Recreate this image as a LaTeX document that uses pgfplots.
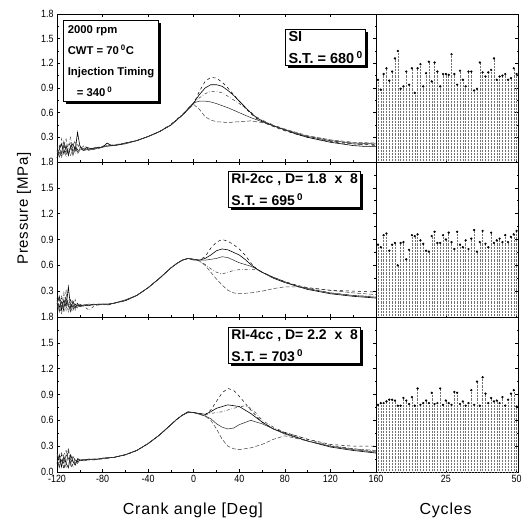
\documentclass[border=0pt]{standalone}
\usepackage{pgfplots}
\pgfplotsset{compat=1.18}
\usepackage{fontspec}
\setmainfont{Liberation Sans}
\newfontfamily\tickfont[FakeStretch=0.85]{Liberation Sans}
\newfontfamily\labfont[LetterSpace=5]{Liberation Sans}
\usetikzlibrary{shadows}

\tikzset{bx/.style={draw, line width=0.9pt, fill=white, align=left,
    drop shadow={shadow xshift=2.5pt, shadow yshift=-2.5pt, opacity=1, fill=black}}}

\pgfplotsset{
  base/.style={scale only axis, ymin=0, ymax=1.8, clip=false,
    axis line style={line width=0.9pt}, tick align=inside,
    major tick length=3pt, minor tick length=1.5pt,
    tick style={black, line width=0.5pt},
    ticklabel style={font=\tickfont\fontsize{10.5}{12}\selectfont},
    yticklabel style={/pgf/number format/.cd, fixed, fixed zerofill, precision=1},
    xticklabel style={/pgf/number format/.cd, fixed, precision=0},
    /pgf/number format/assume math mode=true},
  leftax/.style={base, width=319pt, xmin=-120, xmax=160,
    xtick={-120,-80,-40,0,40,80,120,160}, minor x tick num=1,
    minor y tick num=1},
  rightax/.style={base, width=142pt, xmin=0.3, xmax=50.5,
    xtick={25,50}, xtick pos=bottom, ytick pos=right,
    ytick={0.3,0.6,0.9,1.2,1.5,1.8}, yticklabels={}, minor y tick num=1},
  c1/.style={black, line width=0.5pt, dashed},
  c2/.style={black, line width=0.6pt, solid},
  c3/.style={black!80, line width=0.5pt, dash dot},
  c4/.style={black!85, line width=0.5pt, solid},
  c5/.style={black!75, line width=0.5pt, dash pattern=on 4pt off 2pt},
  stem/.style={ycomb, black!55, densely dotted, line width=0.45pt,
    mark=*, mark size=0.9pt, mark options={solid, fill=black, draw=black}},
}

\begin{document}
\begin{tikzpicture}
\path[use as bounding box] (0,0) rectangle (523pt,522pt);

% ---------------- Panel 1 (SI) ----------------
\begin{axis}[leftax, at={(57pt,360pt)}, anchor=south west, height=148pt,
  xticklabels={}, ytick={0.3,0.6,0.9,1.2,1.5,1.8}]
\addplot[c1] coordinates {(-120,0.12)(-118,0.2)(-116,0.08)(-114,0.22)(-112,0.1)(-110,0.18)(-108,0.25)(-106,0.12)(-104,0.2)(-102,0.15)(-100,0.18)(-96,0.15)(-92,0.17)(-88,0.16)(-84,0.18)(-80,0.19)(-76,0.21)(-72,0.2)(-66,0.21)(-60,0.23)(-50,0.26)(-40,0.31)(-30,0.37)(-20,0.45)(-10,0.57)(-5,0.64)(0,0.71)
 (5,0.86)(10,0.98)(15,1.03)(20,1.02)(25,0.97)(30,0.9)(35,0.82)(40,0.74)(45,0.66)(50,0.59)(55,0.53)(60,0.49)(70,0.43)(80,0.38)(90,0.34)(100,0.3)(110,0.27)(120,0.25)(130,0.23)(140,0.22)(150,0.21)(160,0.21)};
\addplot[c2] coordinates {(-120,0.05)(-118,0.15)(-116,0.22)(-114,0.1)(-112,0.2)(-110,0.08)(-108,0.18)(-106,0.22)(-104,0.14)(-102,0.36)(-100,0.2)(-97,0.14)(-94,0.18)(-90,0.16)(-86,0.17)(-80,0.18)(-76,0.23)(-72,0.2)(-66,0.21)(-60,0.23)(-50,0.26)(-40,0.31)(-30,0.37)(-20,0.45)(-10,0.57)(-5,0.64)(0,0.72)
 (5,0.82)(10,0.9)(15,0.94)(20,0.94)(25,0.92)(30,0.87)(35,0.81)(40,0.74)(45,0.67)(50,0.6)(55,0.54)(60,0.5)(70,0.44)(80,0.39)(90,0.34)(100,0.3)(110,0.27)(120,0.24)(130,0.22)(140,0.2)(150,0.19)(160,0.19)};
\addplot[c3] coordinates {(-120,0.2)(-118,0.1)(-116,0.28)(-114,0.15)(-112,0.06)(-110,0.22)(-108,0.3)(-106,0.16)(-104,0.1)(-102,0.22)(-100,0.16)(-96,0.2)(-92,0.15)(-88,0.18)(-84,0.17)(-80,0.19)(-76,0.2)(-70,0.2)(-60,0.23)(-50,0.26)(-40,0.31)(-30,0.37)(-20,0.46)(-10,0.58)(-5,0.65)(0,0.72)
 (5,0.78)(10,0.83)(15,0.86)(20,0.86)(25,0.84)(30,0.8)(40,0.71)(50,0.61)(55,0.55)(60,0.51)(70,0.45)(80,0.4)(90,0.35)(100,0.31)(120,0.26)(140,0.22)(160,0.2)};
\addplot[c4] coordinates {(-120,0.15)(-118,0.06)(-116,0.12)(-114,0.25)(-112,0.14)(-110,0.1)(-108,0.2)(-106,0.08)(-104,0.18)(-102,0.12)(-100,0.16)(-96,0.14)(-92,0.16)(-88,0.15)(-84,0.17)(-80,0.18)(-76,0.19)(-70,0.2)(-60,0.22)(-50,0.26)(-40,0.31)(-30,0.37)(-20,0.45)(-10,0.57)(-5,0.65)(0,0.72)
 (5,0.74)(10,0.74)(15,0.73)(20,0.71)(30,0.66)(40,0.6)(50,0.54)(60,0.49)(70,0.44)(80,0.39)(90,0.35)(100,0.31)(120,0.26)(140,0.23)(160,0.22)};
\addplot[c5] coordinates {(-120,0.1)(-118,0.18)(-116,0.05)(-114,0.2)(-112,0.28)(-110,0.12)(-108,0.08)(-106,0.2)(-104,0.26)(-102,0.1)(-100,0.14)(-96,0.17)(-92,0.14)(-88,0.17)(-84,0.16)(-80,0.18)(-76,0.2)(-70,0.21)(-60,0.23)(-50,0.26)(-40,0.31)(-30,0.37)(-20,0.45)(-10,0.57)(-5,0.64)(0,0.7)
 (5,0.64)(10,0.55)(15,0.51)(20,0.49)(30,0.48)(40,0.49)(50,0.5)(60,0.48)(70,0.44)(80,0.4)(90,0.36)(100,0.32)(120,0.27)(140,0.24)(160,0.23)};
\node[bx, anchor=north west, inner xsep=4pt, inner ysep=5pt,
  font=\bfseries\fontsize{11.3}{21}\selectfont] at (rel axis cs:0.02,0.96)
  {2000 rpm\\CWT = 70\,\textsuperscript{0}C\\Injection Timing\\\hspace{0.8em}= 340\,\textsuperscript{0}};
\node[bx, anchor=north west, inner xsep=3pt, inner ysep=2pt,
  font=\bfseries\fontsize{14.5}{22}\selectfont] at (rel axis cs:0.715,0.9)
  {SI\\S.T. = 680\,\textsuperscript{0}};
\end{axis}

% ---------------- Panel 2 (RI-2cc) ----------------
\begin{axis}[leftax, at={(57pt,205pt)}, anchor=south west, height=155pt,
  xticklabels={}, ytick={0.3,0.6,0.9,1.2,1.5,1.8}]
\addplot[c1] coordinates {(-120,0.22)(-118,0.1)(-116,0.25)(-114,0.05)(-112,0.3)(-110,0.12)(-108,0.2)(-106,0.08)(-104,0.15)(-102,0.12)(-100,0.14)(-96,0.13)(-92,0.14)(-88,0.14)(-84,0.14)(-80,0.15)(-75,0.14)(-70,0.16)(-60,0.19)(-50,0.25)(-40,0.34)(-30,0.45)(-20,0.57)(-15,0.62)(-10,0.66)(-5,0.68)(0,0.67)(5,0.66)
 (10,0.7)(15,0.8)(20,0.87)(25,0.9)(30,0.88)(35,0.84)(40,0.79)(45,0.72)(50,0.63)(55,0.56)(60,0.52)(70,0.46)(80,0.41)(90,0.37)(100,0.34)(120,0.31)(140,0.3)(160,0.29)};
\addplot[c2] coordinates {(-120,0.15)(-118,0.24)(-116,0.08)(-114,0.2)(-112,0.12)(-110,0.35)(-108,0.1)(-106,0.18)(-104,0.12)(-102,0.14)(-100,0.13)(-96,0.14)(-92,0.13)(-88,0.15)(-84,0.14)(-80,0.15)(-75,0.15)(-70,0.16)(-60,0.19)(-50,0.25)(-40,0.34)(-30,0.45)(-20,0.57)(-15,0.62)(-10,0.66)(-5,0.68)(0,0.67)(5,0.66)
 (10,0.68)(15,0.72)(20,0.77)(25,0.79)(30,0.78)(35,0.75)(40,0.72)(45,0.67)(50,0.61)(55,0.56)(60,0.52)(70,0.45)(80,0.4)(90,0.36)(100,0.32)(120,0.27)(140,0.24)(160,0.22)};
\addplot[c4] coordinates {(-120,0.2)(-118,0.06)(-116,0.18)(-114,0.1)(-112,0.22)(-110,0.15)(-108,0.06)(-106,0.14)(-104,0.1)(-102,0.16)(-100,0.12)(-96,0.14)(-92,0.15)(-88,0.14)(-84,0.15)(-80,0.15)(-75,0.15)(-70,0.16)(-60,0.2)(-50,0.25)(-40,0.34)(-30,0.45)(-20,0.57)(-15,0.62)(-10,0.66)(-5,0.68)(0,0.66)(5,0.66)
 (10,0.66)(15,0.67)(20,0.68)(25,0.7)(30,0.69)(35,0.66)(40,0.63)(50,0.59)(55,0.56)(60,0.52)(70,0.46)(80,0.41)(90,0.36)(100,0.33)(120,0.28)(140,0.25)(160,0.23)};
\addplot[c3] coordinates {(-120,0.1)(-118,0.2)(-116,0.12)(-114,0.28)(-112,0.08)(-110,0.2)(-108,0.14)(-106,0.1)(-104,0.2)(-102,0.1)(-100,0.15)(-96,0.12)(-92,0.08)(-88,0.12)(-84,0.14)(-80,0.15)(-75,0.14)(-70,0.16)(-60,0.19)(-50,0.25)(-40,0.34)(-30,0.45)(-20,0.57)(-15,0.62)(-10,0.66)(-5,0.68)(0,0.67)(5,0.65)
 (10,0.61)(15,0.56)(20,0.52)(25,0.5)(30,0.52)(35,0.54)(40,0.55)(50,0.55)(55,0.55)(60,0.52)(70,0.46)(80,0.41)(90,0.37)(100,0.33)(120,0.28)(140,0.25)(160,0.24)};
\addplot[c5] coordinates {(-120,0.18)(-118,0.12)(-116,0.04)(-114,0.16)(-112,0.2)(-110,0.06)(-108,0.16)(-106,0.2)(-104,0.08)(-102,0.14)(-100,0.12)(-96,0.13)(-92,0.14)(-88,0.14)(-84,0.15)(-80,0.15)(-75,0.15)(-70,0.16)(-60,0.19)(-50,0.25)(-40,0.34)(-30,0.45)(-20,0.57)(-15,0.62)(-10,0.66)(-5,0.68)(0,0.67)(5,0.65)
 (10,0.6)(15,0.52)(20,0.44)(25,0.37)(30,0.31)(35,0.28)(40,0.27)(50,0.28)(60,0.3)(70,0.33)(80,0.35)(90,0.35)(100,0.34)(120,0.31)(140,0.28)(160,0.26)};
\node[bx, anchor=north west, inner xsep=3pt, inner ysep=2pt,
  font=\bfseries\fontsize{14}{22}\selectfont] at (rel axis cs:0.536,0.94)
  {RI-2cc , D= 1.8 \ x \ 8\\S.T. = 695\,\textsuperscript{0}};
\node[xshift=-29pt, rotate=90, anchor=base, font=\labfont\fontsize{15}{18}\selectfont]
  at (rel axis cs:0,0.70) {Pressure [MPa]};
\end{axis}

% ---------------- Panel 3 (RI-4cc) ----------------
\begin{axis}[leftax, at={(57pt,50pt)}, anchor=south west, height=155pt,
  ytick={0,0.3,0.6,0.9,1.2,1.5,1.8}]
\addplot[c1] coordinates {(-120,0.18)(-118,0.08)(-116,0.2)(-114,0.03)(-112,0.15)(-110,0.25)(-108,0.05)(-106,0.1)(-104,0.16)(-102,0.12)(-100,0.14)(-96,0.14)(-92,0.14)(-88,0.15)(-84,0.15)(-80,0.155)(-70,0.17)(-60,0.2)(-50,0.25)(-40,0.33)(-30,0.43)(-20,0.55)(-15,0.61)(-10,0.66)(-5,0.69)(0,0.69)(5,0.68)(10,0.66)
 (15,0.72)(20,0.82)(25,0.92)(30,0.97)(35,0.95)(40,0.88)(45,0.8)(50,0.72)(60,0.58)(70,0.5)(80,0.46)(100,0.38)(120,0.32)(140,0.3)(160,0.3)};
\addplot[c2] coordinates {(-120,0.1)(-118,0.2)(-116,0.06)(-114,0.18)(-112,0.1)(-110,0.05)(-108,0.2)(-106,0.12)(-104,0.08)(-102,0.15)(-100,0.13)(-96,0.14)(-92,0.15)(-88,0.14)(-84,0.15)(-80,0.16)(-70,0.17)(-60,0.2)(-50,0.25)(-40,0.33)(-30,0.43)(-20,0.55)(-15,0.61)(-10,0.66)(-5,0.7)(0,0.69)(5,0.68)(10,0.67)
 (15,0.7)(20,0.74)(30,0.78)(40,0.76)(50,0.68)(60,0.58)(70,0.5)(80,0.45)(100,0.36)(120,0.29)(140,0.25)(160,0.22)};
\addplot[c3] coordinates {(-120,0.22)(-118,0.12)(-116,0.08)(-114,0.2)(-112,0.26)(-110,0.1)(-108,0.15)(-106,0.05)(-104,0.12)(-102,0.16)(-100,0.14)(-96,0.13)(-92,0.14)(-88,0.15)(-84,0.15)(-80,0.15)(-70,0.17)(-60,0.2)(-50,0.25)(-40,0.33)(-30,0.43)(-20,0.55)(-15,0.61)(-10,0.66)(-5,0.69)(0,0.69)(5,0.68)(10,0.66)
 (15,0.68)(25,0.7)(35,0.74)(45,0.77)(50,0.74)(55,0.68)(60,0.6)(70,0.52)(80,0.46)(100,0.38)(120,0.31)(140,0.27)(160,0.24)};
\addplot[c4] coordinates {(-120,0.15)(-118,0.05)(-116,0.14)(-114,0.1)(-112,0.2)(-110,0.16)(-108,0.1)(-106,0.18)(-104,0.14)(-102,0.1)(-100,0.14)(-96,0.14)(-92,0.15)(-88,0.15)(-84,0.15)(-80,0.16)(-70,0.17)(-60,0.2)(-50,0.25)(-40,0.33)(-30,0.43)(-20,0.55)(-15,0.61)(-10,0.66)(-5,0.69)(0,0.69)(5,0.67)(10,0.65)
 (15,0.62)(20,0.56)(25,0.52)(30,0.5)(35,0.51)(40,0.55)(50,0.6)(60,0.56)(70,0.5)(80,0.44)(100,0.36)(120,0.3)(140,0.26)(160,0.23)};
\addplot[c5] coordinates {(-120,0.2)(-118,0.14)(-116,0.22)(-114,0.12)(-112,0.06)(-110,0.28)(-108,0.12)(-106,0.15)(-104,0.1)(-102,0.14)(-100,0.15)(-96,0.14)(-92,0.14)(-88,0.15)(-84,0.15)(-80,0.16)(-70,0.17)(-60,0.2)(-50,0.25)(-40,0.33)(-30,0.43)(-20,0.55)(-15,0.61)(-10,0.66)(-5,0.69)(0,0.69)(5,0.67)(10,0.65)
 (15,0.6)(20,0.5)(25,0.38)(30,0.3)(35,0.27)(40,0.26)(50,0.28)(60,0.32)(70,0.38)(80,0.42)(100,0.36)(120,0.3)(140,0.27)(160,0.25)};
\node[bx, anchor=north west, inner xsep=3pt, inner ysep=2pt,
  font=\bfseries\fontsize{14}{22}\selectfont] at (rel axis cs:0.536,0.935)
  {RI-4cc , D= 2.2 \ x \ 8\\S.T. = 703\,\textsuperscript{0}};
\node[anchor=base, yshift=-43pt, font=\labfont\fontsize{16}{18}\selectfont]
  at (rel axis cs:0.426,0) {Crank angle [Deg]};
\end{axis}

% ---------------- Right panels ----------------
\begin{axis}[rightax, at={(376pt,360pt)}, anchor=south west, height=148pt, xticklabels={}]
\addplot[stem] coordinates {(1,1.00)(2,0.88)(3,1.07)(4,1.14)(5,0.99)(6,1.10)(7,1.26)(8,1.35)(9,0.89)(10,0.92)
(11,1.10)(12,0.94)(13,1.14)(14,0.84)(15,1.14)(16,1.19)(17,0.92)(18,1.08)(19,1.22)(20,0.98)
(21,1.21)(22,1.10)(23,0.92)(24,1.07)(25,1.07)(26,1.06)(27,1.31)(28,1.07)(29,0.94)(30,1.11)
(31,1.00)(32,0.92)(33,1.10)(34,1.10)(35,0.87)(36,0.89)(37,1.21)(38,1.09)(39,1.04)(40,1.09)
(41,1.12)(42,1.26)(43,1.00)(44,1.04)(45,1.05)(46,1.07)(47,1.00)(48,1.02)(49,1.14)(50,1.07)};
\end{axis}

\begin{axis}[rightax, at={(376pt,205pt)}, anchor=south west, height=155pt, xticklabels={}]
\addplot[stem] coordinates {(1,0.84)(2,0.81)(3,0.95)(4,0.97)(5,0.77)(6,0.84)(7,0.86)(8,0.60)(9,0.86)(10,0.87)
(11,0.67)(12,0.78)(13,0.95)(14,0.94)(15,0.96)(16,0.89)(17,0.85)(18,0.77)(19,0.76)(20,0.94)
(21,0.99)(22,0.86)(23,0.86)(24,0.95)(25,0.90)(26,0.98)(27,0.87)(28,0.79)(29,0.99)(30,0.84)
(31,0.81)(32,0.89)(33,0.79)(34,0.91)(35,1.01)(36,0.76)(37,0.87)(38,1.00)(39,0.85)(40,0.81)
(41,0.98)(42,0.86)(43,0.89)(44,0.91)(45,0.87)(46,0.95)(47,0.87)(48,0.93)(49,0.96)(50,1.00)};
\end{axis}

\begin{axis}[rightax, at={(376pt,50pt)}, anchor=south west, height=155pt]
\addplot[stem] coordinates {(1,0.78)(2,0.80)(3,0.80)(4,0.82)(5,0.84)(6,0.84)(7,0.83)(8,0.77)(9,0.77)(10,0.86)
(11,0.83)(12,0.79)(13,0.87)(14,0.77)(15,0.97)(16,0.78)(17,0.80)(18,0.83)(19,0.80)(20,0.92)
(21,0.79)(22,0.80)(23,0.97)(24,0.78)(25,0.83)(26,0.80)(27,0.78)(28,0.93)(29,0.92)(30,0.79)
(31,0.82)(32,0.77)(33,0.80)(34,0.95)(35,0.78)(36,1.05)(37,0.77)(38,1.10)(39,0.91)(40,0.80)
(41,0.86)(42,0.82)(43,0.83)(44,0.80)(45,0.87)(46,0.77)(47,0.84)(48,0.91)(49,0.95)(50,0.76)};
\node[anchor=base, yshift=-43pt, font=\labfont\fontsize{16}{18}\selectfont]
  at (rel axis cs:0.49,0) {Cycles};
\end{axis}
\end{tikzpicture}
\end{document}
